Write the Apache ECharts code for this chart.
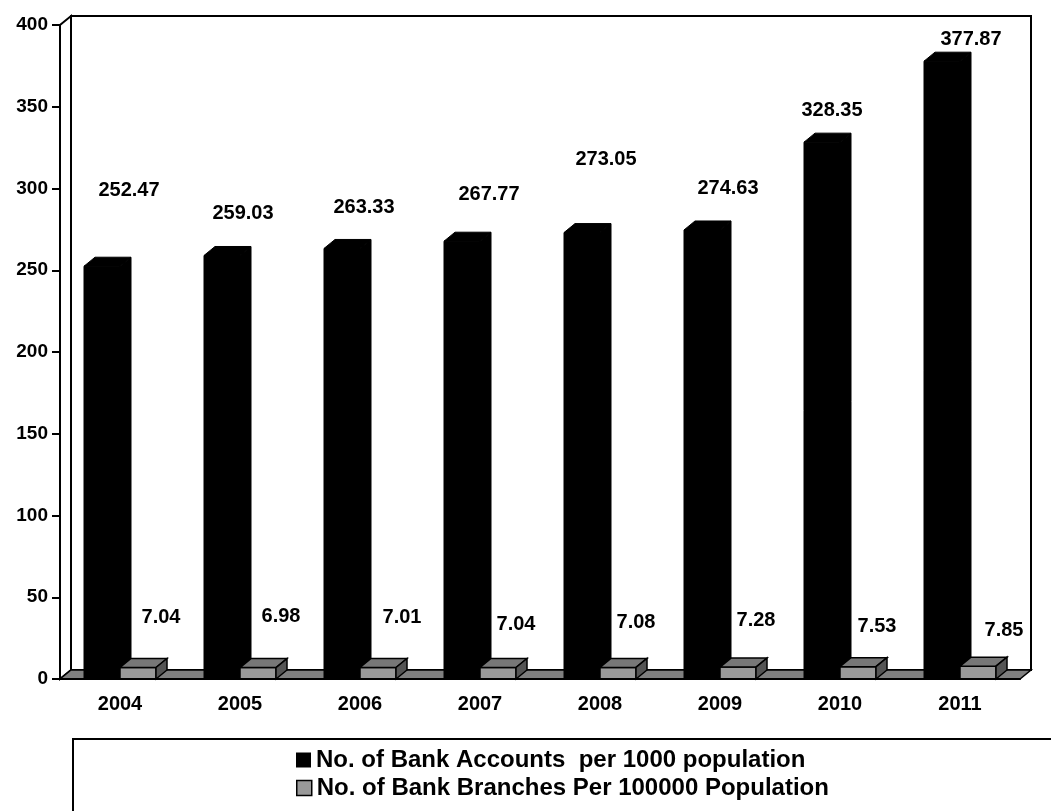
<!DOCTYPE html>
<html>
<head>
<meta charset="utf-8">
<script src="https://cdn.jsdelivr.net/npm/echarts@6/dist/echarts.min.js"></script>
<style>
  html, body { margin: 0; padding: 0; background: #fff; }
  #chart-container { width: 1051px; height: 811px; }
</style>
</head>
<body>
<div id="chart-container"></div>
<script>
var years = ['2004', '2005', '2006', '2007', '2008', '2009', '2010', '2011'];
var bankAccounts = [252.47, 259.03, 263.33, 267.77, 273.05, 274.63, 328.35, 377.87];
var bankBranches = [7.04, 6.98, 7.01, 7.04, 7.08, 7.28, 7.53, 7.85];
var accountsName = 'No. of Bank Accounts  per 1000 population';
var branchesName = 'No. of Bank Branches Per 100000 Population';

// 3d look
var DX = 11, DY = -9;
var FONT = 'Liberation Sans, Arial, sans-serif';
// label placement as in the original (x shift from category centre, lift above bar)
var accLabelPos = [[9, 76], [3, 42], [4, 41], [9, 47], [6, 73], [8, 41], [-8, 32], [11, 22]];
var brLabelPos = [[41, 50], [41, 51], [42, 50], [36, 43], [36, 45], [36, 47], [37, 40], [44, 36]];

var dom = document.getElementById('chart-container');
var myChart = echarts.init(dom, null, { renderer: 'canvas' });

function renderFrame(params, api) {
  var band = api.size([1, 0])[0];
  var p0 = api.coord([0, 0]);
  var p1 = api.coord([years.length - 1, 400]);
  var x0 = p0[0] - band / 2, x1 = p1[0] + band / 2;
  var y0 = p0[1], yT = p1[1];
  return {
    type: 'group',
    children: [
      { type: 'rect', shape: { x: x0 + DX, y: yT + DY, width: x1 - x0, height: y0 - yT },
        style: { fill: '#fff', stroke: '#000', lineWidth: 2 } },
      { type: 'polygon', shape: { points: [[x0, y0], [x0, yT], [x0 + DX, yT + DY], [x0 + DX, y0 + DY]] },
        style: { fill: '#fff', stroke: '#000', lineWidth: 2 } },
      { type: 'polygon', shape: { points: [[x0, y0], [x1, y0], [x1 + DX, y0 + DY], [x0 + DX, y0 + DY]] },
        style: { fill: '#808080', stroke: '#000', lineWidth: 1.5 } }
    ]
  };
}

function makeBar(slot, colors, labelPos) {
  return function (params, api) {
    var i = api.value(0), v = api.value(1);
    var band = api.size([1, 0])[0];
    var base = api.coord([i, 0]);
    var top = api.coord([i, v]);
    var w = band * 0.3;
    var l = base[0] - band / 2 + band * 0.2 + slot * w;
    var ty = top[1], by = base[1];
    var st = { stroke: colors.line, lineWidth: colors.lw };
    var lp = labelPos[params.dataIndex];
    return {
      type: 'group',
      children: [
        { type: 'rect', shape: { x: l, y: ty, width: w, height: by - ty },
          style: Object.assign({ fill: colors.front }, st) },
        { type: 'polygon', shape: { points: [[l, ty], [l + DX, ty + DY], [l + w + DX, ty + DY], [l + w, ty]] },
          style: Object.assign({ fill: colors.top }, st) },
        { type: 'polygon', shape: { points: [[l + w, ty], [l + w + DX, ty + DY], [l + w + DX, by + DY], [l + w, by]] },
          style: Object.assign({ fill: colors.side }, st) },
        { type: 'text', x: base[0] + lp[0], y: ty - lp[1],
          style: { text: v.toFixed(2), fill: '#000', font: 'bold 20px ' + FONT,
                   align: 'center', verticalAlign: 'middle' } }
      ]
    };
  };
}

var legendText = { color: '#000', fontWeight: 'bold', fontSize: 24, fontFamily: FONT };

var option = {
  animation: false,
  backgroundColor: '#fff',
  grid: { left: 60, right: 31, top: 25, bottom: 132 },
  xAxis: {
    type: 'category',
    data: years,
    axisLine: { lineStyle: { color: '#000', width: 2 } },
    axisTick: { length: 9, lineStyle: { color: '#000', width: 2 } },
    axisLabel: { color: '#000', fontWeight: 'bold', fontSize: 20, fontFamily: FONT, margin: 15 },
    z: 5
  },
  yAxis: {
    type: 'value',
    min: 0,
    max: 400,
    interval: 50,
    axisLine: { show: true, lineStyle: { color: '#000', width: 2 } },
    axisTick: { show: true, length: 8, lineStyle: { color: '#000', width: 2 } },
    axisLabel: { color: '#000', fontWeight: 'bold', fontSize: 19, fontFamily: FONT, margin: 12 },
    splitLine: { show: false },
    z: 5
  },
  legend: [
    {
      left: 296, top: 748, itemWidth: 15, itemHeight: 15, itemGap: 0, padding: 0,
      icon: 'rect', textStyle: legendText,
      data: [{ name: accountsName, itemStyle: { color: '#000' } }]
    },
    {
      left: 296, top: 776, itemWidth: 15, itemHeight: 15, itemGap: 0, padding: 0,
      icon: 'rect', textStyle: legendText,
      data: [{ name: branchesName, itemStyle: { color: '#999', borderColor: '#000', borderWidth: 1.5 } }]
    }
  ],
  graphic: [
    { type: 'rect', shape: { x: 73, y: 739, width: 1000, height: 100 },
      style: { fill: '#fff', stroke: '#000', lineWidth: 2 }, z: -1 }
  ],
  series: [
    {
      type: 'custom',
      name: 'frame',
      silent: true,
      z: 1,
      data: [[0, 0]],
      encode: { x: 0, y: 1 },
      renderItem: renderFrame
    },
    {
      type: 'custom',
      name: accountsName,
      z: 2,
      itemStyle: { color: '#000' },
      data: years.map(function (y, i) { return [i, bankAccounts[i]]; }),
      encode: { x: 0, y: 1 },
      renderItem: makeBar(0, { front: '#000', top: '#000', side: '#000', line: '#000', lw: 1 }, accLabelPos)
    },
    {
      type: 'custom',
      name: branchesName,
      z: 3,
      itemStyle: { color: '#999' },
      data: years.map(function (y, i) { return [i, bankBranches[i]]; }),
      encode: { x: 0, y: 1 },
      renderItem: makeBar(1, { front: '#999', top: '#777', side: '#555', line: '#000', lw: 1.5 }, brLabelPos)
    }
  ]
};

myChart.setOption(option);
window.addEventListener('resize', myChart.resize);
</script>
</body>
</html>
